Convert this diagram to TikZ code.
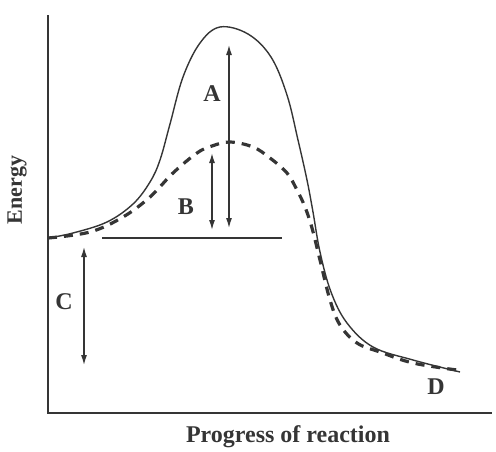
\documentclass[tikz,border=0pt]{standalone}
\usepackage{fontspec}
\setmainfont{Liberation Serif}
\usetikzlibrary{arrows.meta,positioning}
\definecolor{Ink}{HTML}{353535}

\begin{document}
\begin{tikzpicture}[x=1pt, y=-1pt, >={Latex[length=10pt,width=6pt]},
    every node/.style={font=\fontsize{24}{28}\selectfont\bfseries, text=Ink}]
  \useasboundingbox (0,0) rectangle (496,451);
  % axes
  \coordinate (origin) at (48,413);
  \coordinate (ytop) at (48,15);
  \coordinate (xend) at (492,413);
  \draw[Ink, line width=2pt] (ytop) -- (origin) -- (xend);
  % uncatalysed path
  \draw[Ink, line width=1.4pt] plot[smooth, tension=0.6] coordinates {
    (48,238) (73,233) (107,222) (133,204) (150,182) (160,160) (170,124) (183,77)
    (200,43) (220,27) (248,34) (271,57) (287,95) (298,140) (307,180)
    (313,212) (320,252) (331,292) (347,323) (373,347) (413,360) (460,372)};
  % catalysed path
  \draw[Ink, line width=3.2pt, dash pattern=on 9pt off 7pt] plot[smooth, tension=0.6] coordinates {
    (48,238) (90,232) (123,217) (150,197) (173,173) (197,153) (212,146)
    (230,142) (253,147) (270,158) (287,173) (297,190) (305,207) (312,228)
    (320,260) (330,300) (340,325) (357,343) (380,352) (413,363) (457,370)};
  % reactant level
  \coordinate (lvlL) at (102,238);
  \coordinate (lvlR) at (282,238);
  \draw[Ink, line width=1.4pt] (lvlL) -- (lvlR);
  % arrows
  \coordinate (aTop) at (229,45);
  \coordinate (aBot) at (229,228);
  \coordinate (bTop) at (212,153);
  \coordinate (bBot) at (212,230);
  \coordinate (cTop) at (84,247);
  \coordinate (cBot) at (84,365);
  \draw[Ink, line width=1.2pt, <->] (aTop) -- (aBot);
  \draw[Ink, line width=1.4pt, <->] (bTop) -- (bBot);
  \draw[Ink, line width=1.2pt, <->] (cTop) -- (cBot);
  % labels
  \node (labA) at (212,94) {A};
  \node (labB) at (186,207) {B};
  \node (labC) at (64,302) {C};
  \node (labD) at (436,387) {D};
  \node[rotate=90, font=\fontsize{22}{26}\selectfont\bfseries] (ylab) at (17,190) {Energy};
  \node (xlab) at (288,437) {Progress of reaction};
\end{tikzpicture}
\end{document}
